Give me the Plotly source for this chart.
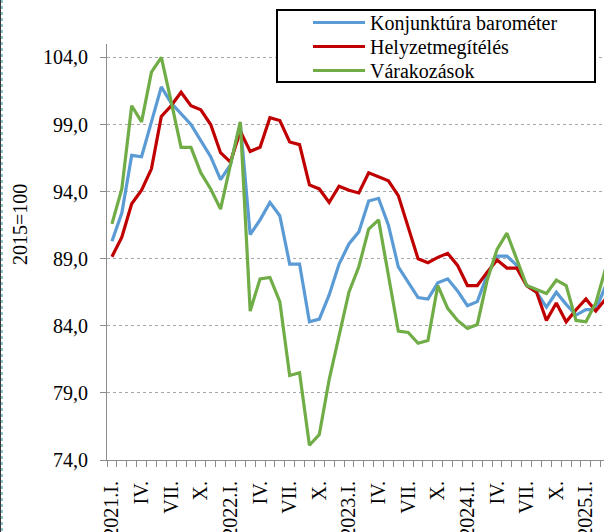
import plotly.graph_objects as go

# ---- data -------------------------------------------------------------
roman = ["I.", "II.", "III.", "IV.", "V.", "VI.", "VII.", "VIII.", "IX.", "X.", "XI.", "XII."]
years = [2021, 2022, 2023, 2024, 2025]

konjunktura = [90.3, 92.4, 96.7, 96.6, 99.2, 101.8, 100.6, 99.8, 99.0, 97.8, 96.6, 94.9,
               96.0, 99.1, 90.8, 91.9, 93.2, 92.2, 88.6, 88.6, 84.3, 84.5, 86.3, 88.6,
               90.1, 91.0, 93.3, 93.5, 91.5, 88.4, 87.3, 86.1, 86.0, 87.2, 87.5, 86.6,
               85.5, 85.8, 87.8, 89.2, 89.2, 88.5, 87.0, 86.5, 85.4, 86.5, 85.6, 84.8,
               85.2, 85.2, 87.0]
helyzet = [89.15, 90.6, 93.1, 94.1, 95.7, 99.6, 100.4, 101.4, 100.4, 100.1, 99.0, 96.9,
           96.2, 98.5, 97.0, 97.3, 99.5, 99.3, 97.7, 97.5, 94.5, 94.2, 93.2, 94.4,
           94.1, 93.9, 95.4, 95.1, 94.8, 93.7, 91.3, 89.0, 88.7, 89.1, 89.4, 88.5,
           87.0, 87.0, 88.0, 88.9, 88.3, 88.3, 87.0, 86.5, 84.4, 85.7, 84.3, 85.2,
           86.0, 85.1, 86.0]
varakozas = [91.6, 94.2, 100.4, 99.2, 102.9, 104.0, 100.7, 97.3, 97.3, 95.4, 94.2, 92.7,
             96.0, 99.2, 85.1, 87.5, 87.6, 85.8, 80.3, 80.5, 75.1, 75.9, 80.0, 83.2,
             86.5, 88.4, 91.2, 91.9, 87.9, 83.6, 83.5, 82.7, 82.9, 87.0, 85.3, 84.4,
             83.8, 84.1, 87.4, 89.7, 90.9, 89.0, 87.0, 86.7, 86.4, 87.4, 87.0, 84.4,
             84.3, 85.7, 88.3]

series_names = ["Konjunktúra barométer", "Helyzetmegítélés", "Várakozások"]
series_values = [konjunktura, helyzet, varakozas]
series_colors = ["#5B9BD5", "#C00000", "#70AD47"]

y_ticks = [74, 79, 84, 89, 94, 99, 104]

month_labels = []
for yr in years:
    for r in roman:
        month_labels.append(f"{yr}.{r}" if r == "I." else r)
month_labels = month_labels[:len(konjunktura)]
x_idx = list(range(len(konjunktura)))
tick_idx = x_idx[::3]
tick_text = [month_labels[i] for i in tick_idx]

# ---- figure -----------------------------------------------------------
FONT = "Liberation Serif"
W, H = 604, 532
ML, MR, MT, MB = 107, 0, 44, 72
PW, PH = W - ML - MR, H - MT - MB

def px_x(px):
    return (px - ML) / PW

def px_y(py):
    return (H - MB - py) / PH

fig = go.Figure()
legend_ids = ["legend", "legend2", "legend3"]
for name, vals, col, lg in zip(series_names, series_values, series_colors, legend_ids):
    fig.add_trace(go.Scatter(x=x_idx, y=vals, mode="lines", name=name,
                             line=dict(color=col, width=3.2), legend=lg))

row_y = [22.5, 46.5, 70.5]
legend_common = dict(bgcolor="rgba(0,0,0,0)", borderwidth=0,
                     font=dict(family=FONT, size=20, color="black"),
                     xanchor="left", yanchor="middle", itemwidth=52,
                     x=px_x(308))
fig.update_layout(
    legend=dict(y=px_y(row_y[0]), **legend_common),
    legend2=dict(y=px_y(row_y[1]), **legend_common),
    legend3=dict(y=px_y(row_y[2]), **legend_common),
)

fig.add_shape(type="rect", xref="paper", yref="paper",
              x0=px_x(277), x1=px_x(595), y0=px_y(82), y1=px_y(10),
              line=dict(color="black", width=2), fillcolor="white", layer="above")

# page border on the left edge
fig.add_shape(type="line", xref="paper", yref="paper",
              x0=px_x(0.5), x1=px_x(0.5), y0=px_y(0), y1=px_y(H),
              line=dict(color="#333333", width=1), layer="above")
fig.add_shape(type="line", xref="paper", yref="paper",
              x0=px_x(2), x1=px_x(2), y0=px_y(0), y1=px_y(H),
              line=dict(color="#8fc4c8", width=2, dash="dot"), layer="above")

fig.add_annotation(text="2015=100", xref="paper", yref="paper",
                   x=px_x(20), y=px_y(225), textangle=-90, showarrow=False,
                   xanchor="center", yanchor="middle",
                   font=dict(family=FONT, size=20, color="black"))

fig.update_layout(
    width=W, height=H,
    margin=dict(l=ML, r=MR, t=MT, b=MB, pad=0, autoexpand=False),
    paper_bgcolor="white", plot_bgcolor="white",
    separators=", ",
    font=dict(family=FONT, size=20, color="black"),
    showlegend=True,
)

fig.update_xaxes(
    range=[-0.5, 49.83], tickmode="array", tickvals=tick_idx, ticktext=tick_text,
    tickangle=-90, ticks="", showgrid=False, zeroline=False, automargin=False,
    showline=True, linecolor="#8c8c8c", linewidth=1,
    tickfont=dict(family=FONT, size=20, color="black"),
    minor=dict(tick0=-0.5, dtick=1, ticks="outside", ticklen=6,
               tickcolor="#8c8c8c", tickwidth=1, showgrid=False),
    ticklabelstandoff=12,
)
fig.update_yaxes(
    range=[74, 105], tickmode="array", tickvals=y_ticks, tickformat=".1f",
    ticks="outside", ticklen=6, tickcolor="#8c8c8c", tickwidth=1,
    showgrid=True, gridcolor="#a6a6a6", gridwidth=1, griddash="dot",
    zeroline=False, showline=True, linecolor="#8c8c8c", linewidth=1, automargin=False,
    tickfont=dict(family=FONT, size=20, color="black"),
    ticklabelstandoff=8,
)

fig.write_html("out.html", config={"displayModeBar": False},
               post_script="document.body.style.margin='0px';")
